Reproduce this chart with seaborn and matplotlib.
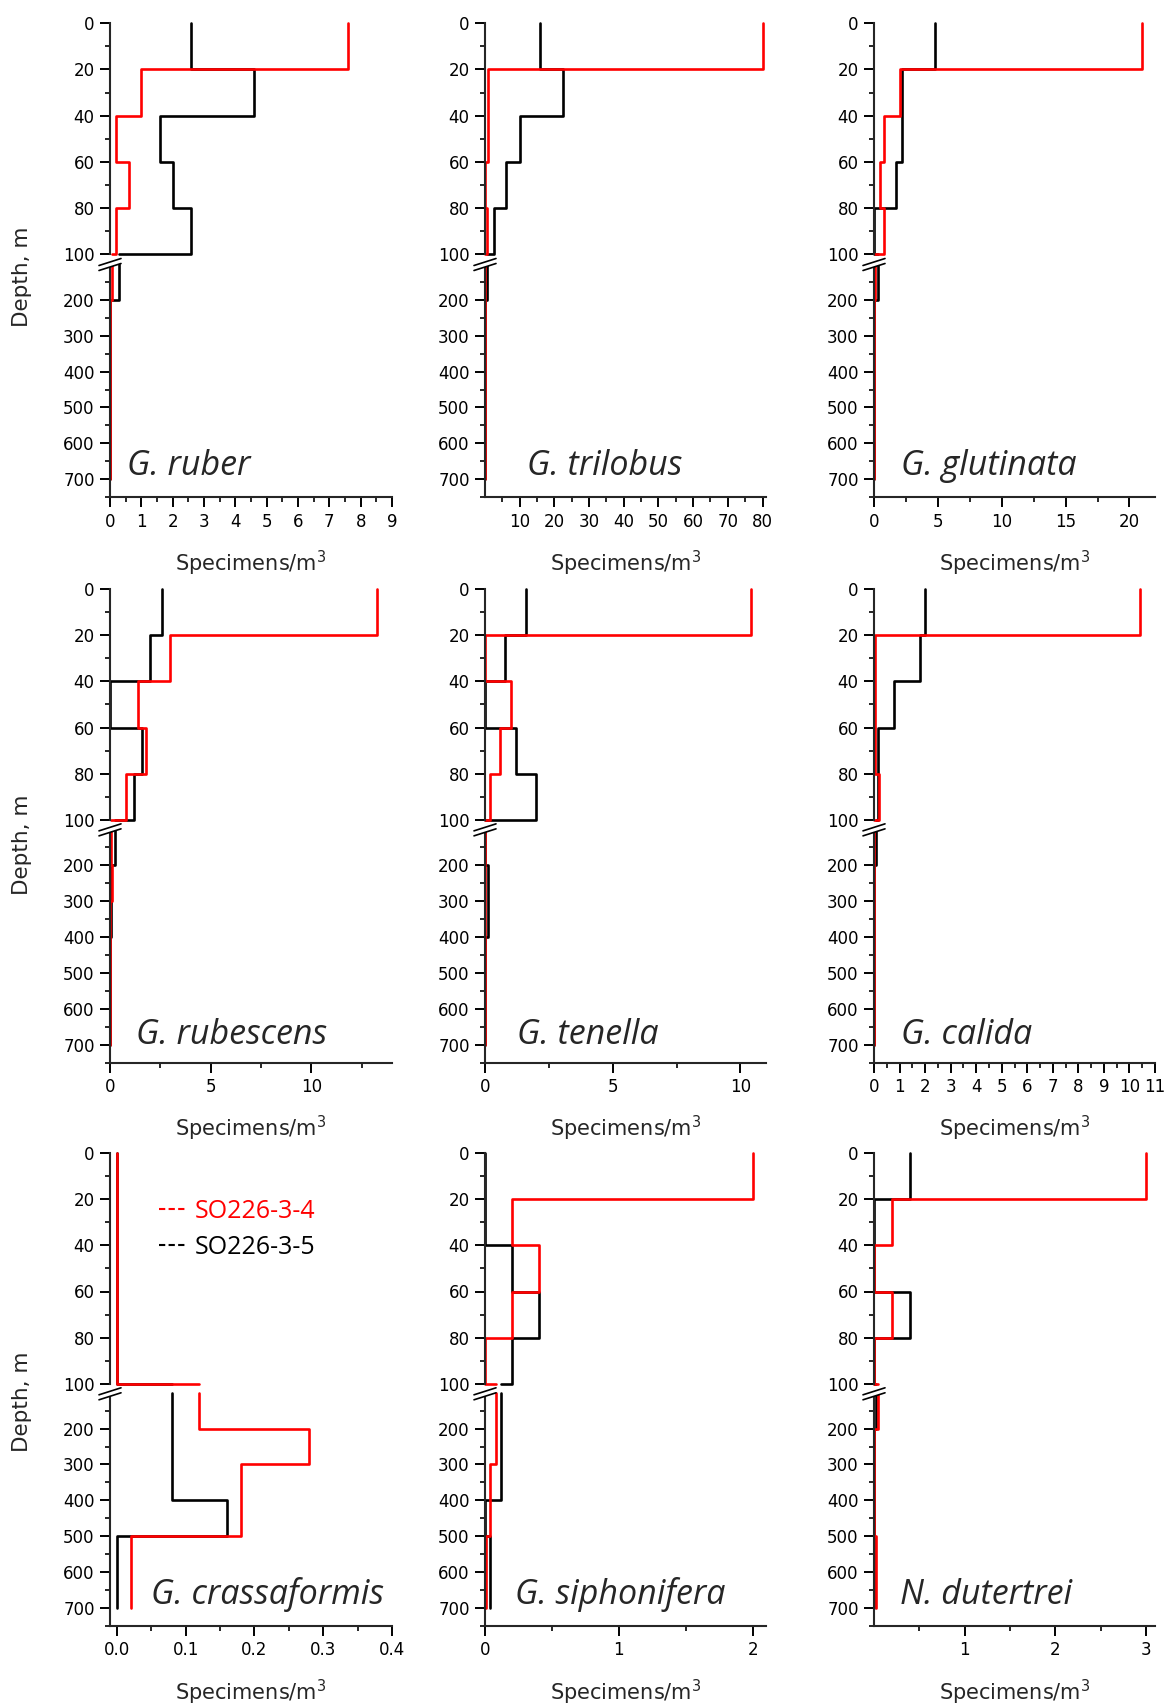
import numpy as np
import pandas as pd
import matplotlib
matplotlib.use("Agg")
import matplotlib.pyplot as plt
import seaborn as sns
from matplotlib.ticker import FixedLocator
from matplotlib.lines import Line2D
from matplotlib.patches import Polygon

# ---------------- data ----------------
depth_edges = [0, 20, 40, 60, 80, 100, 200, 300, 400, 500, 700]
species = ["G. ruber", "G. trilobus", "G. glutinata",
           "G. rubescens", "G. tenella", "G. calida",
           "G. crassaformis", "G. siphonifera", "N. dutertrei"]
stations = ["SO226-3-4", "SO226-3-5"]

ruber_34 = [7.6, 1.0, 0.2, 0.6, 0.2, 0.05, 0, 0, 0, 0]
ruber_35 = [2.6, 4.6, 1.6, 2.0, 2.6, 0.3, 0, 0, 0, 0]
trilobus_34 = [80, 1.0, 1.0, 0, 0.5, 0, 0, 0, 0, 0]
trilobus_35 = [15.8, 22.4, 10, 6, 2.5, 0.5, 0, 0, 0, 0]
glutinata_34 = [21.0, 2.0, 0.8, 0.5, 0.8, 0.05, 0, 0, 0, 0]
glutinata_35 = [4.8, 2.2, 2.2, 1.75, 0, 0.35, 0, 0, 0, 0]
rubescens_34 = [13.25, 3.0, 1.4, 1.8, 0.8, 0.05, 0.08, 0, 0, 0]
rubescens_35 = [2.6, 2.0, 0, 1.6, 1.2, 0.25, 0.05, 0.05, 0, 0]
tenella_34 = [10.4, 0, 1.0, 0.6, 0.2, 0, 0, 0, 0, 0]
tenella_35 = [1.6, 0.8, 0, 1.2, 2.0, 0, 0.1, 0.1, 0, 0]
calida_34 = [10.4, 0.02, 0.02, 0.02, 0.2, 0, 0, 0, 0, 0]
calida_35 = [2.0, 1.8, 0.8, 0.15, 0.15, 0.08, 0, 0, 0, 0]
crassaformis_34 = [0, 0, 0, 0, 0, 0.12, 0.28, 0.18, 0.18, 0.02]
crassaformis_35 = [0, 0, 0, 0, 0, 0.08, 0.08, 0.08, 0.16, 0]
siphonifera_34 = [2.0, 0.2, 0.4, 0.2, 0, 0.08, 0.08, 0.04, 0.04, 0.005]
siphonifera_35 = [0, 0, 0.2, 0.4, 0.2, 0.12, 0.12, 0.12, 0, 0.035]
dutertrei_34 = [3.0, 0.2, 0, 0.2, 0, 0.04, 0, 0, 0, 0.02]
dutertrei_35 = [0.4, 0, 0, 0.4, 0, 0.02, 0, 0, 0, 0]

series_34 = [ruber_34, trilobus_34, glutinata_34, rubescens_34, tenella_34,
             calida_34, crassaformis_34, siphonifera_34, dutertrei_34]
series_35 = [ruber_35, trilobus_35, glutinata_35, rubescens_35, tenella_35,
             calida_35, crassaformis_35, siphonifera_35, dutertrei_35]

x_limits = [(0, 9), (0, 81), (0, 22), (0, 14), (0, 11), (0, 11),
            (-0.01, 0.4), (0, 2.1), (0, 3.1)]
x_major = [list(range(0, 10)), list(range(10, 90, 10)), [0, 5, 10, 15, 20],
           [0, 5, 10], [0, 5, 10], list(range(0, 12)),
           [0.0, 0.1, 0.2, 0.3, 0.4], [0, 1, 2], [1, 2, 3]]
x_minor = [list(np.arange(0.5, 9, 1.0)), list(range(5, 81, 10)),
           [2.5, 7.5, 12.5, 17.5], [2.5, 7.5, 12.5], [2.5, 7.5],
           list(np.arange(0.5, 11, 1.0)),
           [0.05, 0.15, 0.25, 0.35], [0.5, 1.5], [0.5, 1.5, 2.5]]

# ---------------- style ----------------
sns.set_style("ticks")
plt.rcParams["font.family"] = ["DejaVu Sans"]
plt.rcParams["mathtext.fontset"] = "dejavusans"

W, H = 1165, 1704
fig = plt.figure(figsize=(W / 100, H / 100), dpi=100)

cols_left = [110, 485, 874]
cols_right = [392, 766, 1155]
y0 = [23.3, 589.2, 1152.9]
y100 = [254.2, 819.7, 1383.9]
y100b = [263.8, 829.0, 1392.7]
ybot = [497.3, 1062.5, 1626.0]

label_pos = [(127, 475.4), (527, 475.4), (901, 475.4),
             (136, 1043.5), (517, 1043.5), (901, 1043.5),
             (151, 1604), (515, 1604), (900, 1604)]
depth_label_y = [277, 845, 1402]

LW = 1.9
SPW = 1.5


def step_profile(vals, part):
    xs, ys = [], []
    if part == "top":
        for i in range(5):
            xs += [vals[i], vals[i]]
            ys += [depth_edges[i], depth_edges[i + 1]]
        xs.append(vals[5])
        ys.append(depth_edges[5])
    else:
        xs.append(vals[5])
        ys.append(depth_edges[5])
        for i in range(5, 10):
            xs += [vals[i], vals[i]]
            ys += [depth_edges[i], depth_edges[i + 1]]
    return pd.DataFrame({"x": xs, "depth": ys})


def style_axis(ax, k, part):
    ax.set_xlim(*x_limits[k])
    for s in ["top", "right"]:
        ax.spines[s].set_visible(False)
    ax.spines["left"].set_linewidth(SPW)
    ax.spines["bottom"].set_linewidth(SPW)
    ax.tick_params(axis="both", which="major", direction="out", length=7,
                   width=1.4, labelsize=12, pad=4, colors="black")
    ax.tick_params(axis="both", which="minor", direction="out", length=3.6,
                   width=1.4)
    ax.set_xlabel("")
    ax.set_ylabel("")
    if part == "top":
        ax.set_ylim(100, 0)
        ax.yaxis.set_major_locator(FixedLocator([0, 20, 40, 60, 80, 100]))
        ax.yaxis.set_minor_locator(FixedLocator([10, 30, 50, 70, 90]))
        ax.spines["bottom"].set_visible(False)
        ax.set_xticks([])
        ax.tick_params(axis="x", which="both", bottom=False, labelbottom=False)
    else:
        ax.set_ylim(750, 100)
        ax.yaxis.set_major_locator(FixedLocator([200, 300, 400, 500, 600, 700]))
        ax.yaxis.set_minor_locator(FixedLocator([150, 250, 350, 450, 550, 650, 750]))
        ax.xaxis.set_major_locator(FixedLocator(x_major[k]))
        ax.xaxis.set_minor_locator(FixedLocator(x_minor[k]))
        ax.set_xlabel("Specimens/m$^3$", fontsize=15, labelpad=13)
    ax.patch.set_alpha(0)


for r in range(3):
    for c in range(3):
        k = r * 3 + c
        l, rr = cols_left[c], cols_right[c]
        axT = fig.add_axes([l / W, 1 - y100[r] / H, (rr - l) / W,
                            (y100[r] - y0[r]) / H])
        axB = fig.add_axes([l / W, 1 - ybot[r] / H, (rr - l) / W,
                            (ybot[r] - y100b[r]) / H])
        for ax, part in [(axT, "top"), (axB, "bottom")]:
            for vals, col in [(series_35[k], "black"), (series_34[k], "red")]:
                df = step_profile(vals, part)
                sns.lineplot(data=df, x="x", y="depth", sort=False,
                             estimator=None, color=col, lw=LW, ax=ax,
                             clip_on=False, legend=False)
            style_axis(ax, k, part)

        # axis break marks
        ym = (y100[r] + y100b[r]) / 2 + 3
        dx, dy = 11, 3.5
        off = 5
        poly = Polygon([((l - dx) / W, 1 - (ym + dy) / H),
                        ((l + dx) / W, 1 - (ym - dy) / H),
                        ((l + dx) / W, 1 - (ym - dy + off) / H),
                        ((l - dx) / W, 1 - (ym + dy + off) / H)],
                       closed=True, transform=fig.transFigure,
                       facecolor="white", edgecolor="none", zorder=5)
        fig.patches.append(poly)
        for o in (0, off):
            fig.lines.append(Line2D([(l - dx) / W, (l + dx) / W],
                                    [1 - (ym + dy + o) / H, 1 - (ym - dy + o) / H],
                                    transform=fig.transFigure, color="black",
                                    lw=1.2, zorder=6))

        # species name
        px, py = label_pos[k]
        fig.text(px / W, 1 - py / H, species[k], fontsize=24.5, style="italic",
                 family=["Open Sans", "DejaVu Sans"], va="baseline", ha="left")

        if c == 0:
            fig.text(22.5 / W, 1 - depth_label_y[r] / H, "Depth, m",
                     rotation=90, fontsize=15.5, ha="center", va="center")

        if k == 6:
            handles = [Line2D([], [], color="red", lw=1.5,
                              linestyle=(0, (3.0, 1.6))),
                       Line2D([], [], color="black", lw=1.5,
                              linestyle=(0, (3.0, 1.6)))]
            leg = axT.legend(handles, stations, loc="upper left",
                             bbox_to_anchor=(159 / W, 1 - 1199 / H),
                             bbox_transform=fig.transFigure, frameon=False,
                             borderpad=0, borderaxespad=0, handlelength=1.05,
                             handletextpad=0.4, labelspacing=0.43,
                             prop={"family": ["Open Sans", "DejaVu Sans"],
                                   "size": 18},
                             labelcolor=["red", "black"])

fig.savefig("out.png", dpi=100)
